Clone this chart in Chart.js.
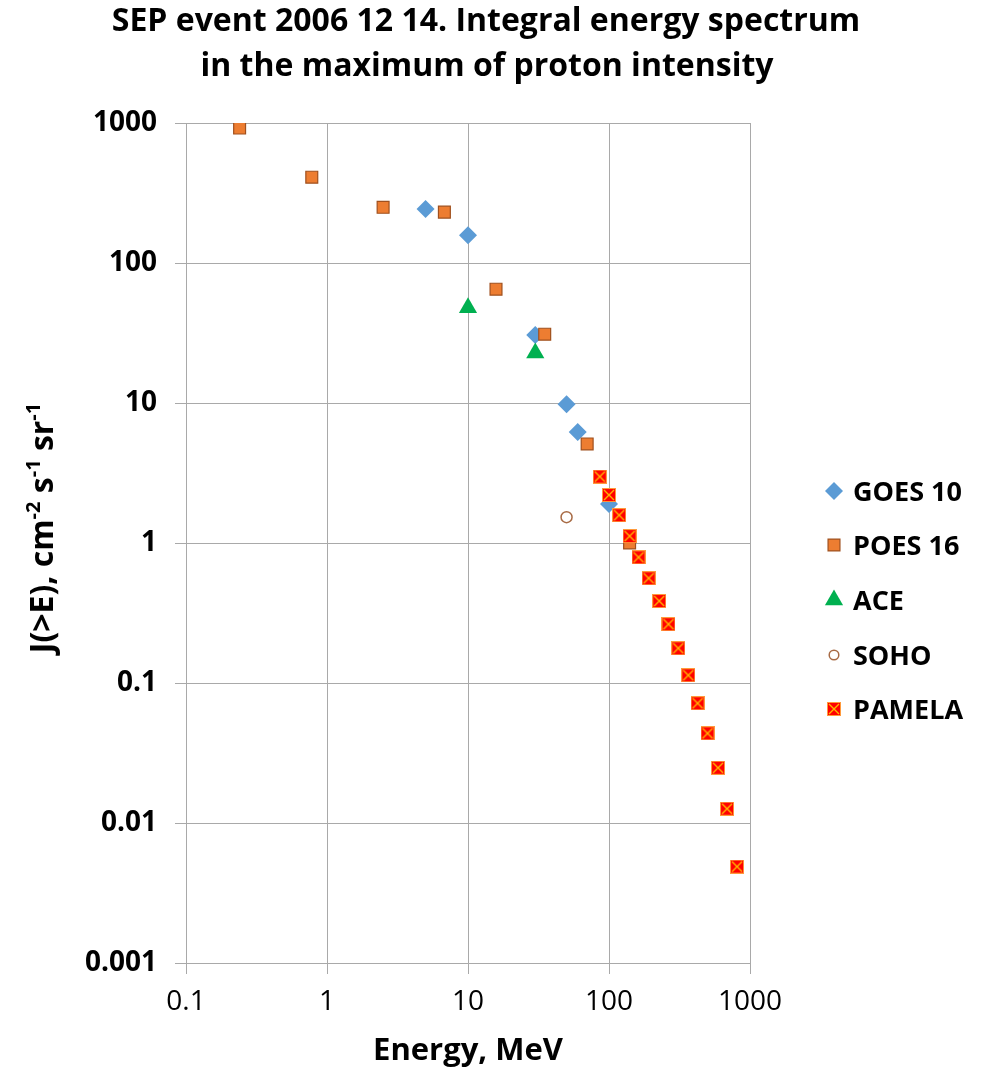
<!DOCTYPE html>
<html>
<head>
<meta charset="utf-8">
<title>SEP event 2006 12 14 – integral energy spectrum</title>
<script src="https://cdn.jsdelivr.net/npm/chart.js@4/dist/chart.umd.min.js"></script>
<style>
  html, body { margin: 0; padding: 0; background: #ffffff; }
  canvas { display: block; }
</style>
</head>
<body>
<canvas id="spectrum" width="989" height="1072"></canvas>
<script>
// ---- data: energy thresholds (MeV) and integral intensities J(>E) ----
const goesEnergy   = [5, 10, 30, 50, 60, 100];
const goesFlux     = [243, 158, 30.6, 9.8, 6.2, 1.9];

const poesEnergy   = [0.24, 0.78, 2.5, 6.8, 15.8, 35, 70, 140];
const poesFlux     = [920, 410, 250, 231, 65, 31, 5.1, 1.0];

const aceEnergy    = [10, 30];
const aceFlux      = [48, 22.8];

const sohoEnergy   = [50];
const sohoFlux     = [1.53];

const pamelaEnergy = [86, 100, 118, 140, 162, 191, 227, 264, 310, 365, 425, 500, 593, 687, 809];
const pamelaFlux   = [2.98, 2.2, 1.58, 1.12, 0.79, 0.56, 0.385, 0.263, 0.177, 0.1135, 0.0716, 0.0437, 0.0248, 0.01265, 0.00488];

const seriesNames  = ['GOES 10', 'POES 16', 'ACE', 'SOHO', 'PAMELA'];

const xTickValues  = [0.1, 1, 10, 100, 1000];
const xTickLabels  = ['0.1', '1', '10', '100', '1000'];
const yTickValues  = [0.001, 0.01, 0.1, 1, 10, 100, 1000];
const yTickLabels  = ['0.001', '0.01', '0.1', '1', '10', '100', '1000'];

const titleLines   = ['SEP event 2006 12 14. Integral energy spectrum', 'in the maximum of proton intensity'];
const xAxisTitle   = 'Energy, MeV';
// y-axis title pieces: [text, isSuperscript]
const yAxisTitle   = [['J(>E), cm', false], ['-2', true], [' s', false], ['-1', true], [' sr', false], ['-1', true]];

// ---- helpers ----
const zip = (xs, ys) => xs.map((x, i) => ({ x: x, y: ys[i] }));

// red square with an orange cross, used as the PAMELA marker
function crossedSquare(size) {
  const c = document.createElement('canvas');
  c.width = size; c.height = size;
  const g = c.getContext('2d');
  g.fillStyle = '#FF0000';
  g.fillRect(0, 0, size, size);
  g.strokeStyle = '#FF9A3C';
  g.lineWidth = 1;
  g.strokeRect(0.5, 0.5, size - 1, size - 1);
  g.strokeStyle = '#FFB800';
  g.lineWidth = 1.4;
  g.beginPath();
  g.moveTo(2, 2); g.lineTo(size - 2, size - 2);
  g.moveTo(size - 2, 2); g.lineTo(2, size - 2);
  g.stroke();
  return c;
}
const pamelaMark = crossedSquare(14);

const FONT = '"Open Sans", "Liberation Sans", sans-serif';
const GRID = '#a9a9a9';

const datasets = [
  { label: seriesNames[0], data: zip(goesEnergy, goesFlux), order: 5,
    pointStyle: 'rectRot', pointRadius: 9, pointBackgroundColor: '#5B9BD5', pointBorderColor: '#5B9BD5', pointBorderWidth: 0 },
  { label: seriesNames[1], data: zip(poesEnergy, poesFlux), order: 4,
    pointStyle: 'rect', pointRadius: 8.4, pointBackgroundColor: '#ED7D31', pointBorderColor: '#A0501E', pointBorderWidth: 1.2 },
  { label: seriesNames[2], data: zip(aceEnergy, aceFlux), order: 3,
    pointStyle: 'triangle', pointRadius: 10.5, pointBackgroundColor: '#00B050', pointBorderColor: '#00B050', pointBorderWidth: 0 },
  { label: seriesNames[3], data: zip(sohoEnergy, sohoFlux), order: 2,
    pointStyle: 'circle', pointRadius: 5.5, pointBackgroundColor: '#FFFFFF', pointBorderColor: '#A86B45', pointBorderWidth: 1.5 },
  { label: seriesNames[4], data: zip(pamelaEnergy, pamelaFlux), order: 1,
    pointStyle: pamelaMark, pointRadius: 7, pointBackgroundColor: '#FF0000', pointBorderColor: '#FFB800', pointBorderWidth: 0 }
];

// draws the two-line heading, the rotated y title with superscripts and the legend
const decorations = {
  id: 'decorations',
  afterDraw(chart) {
    const ctx = chart.ctx;
    ctx.save();
    ctx.fillStyle = '#000000';

    // heading
    ctx.font = 'bold 32px ' + FONT;
    ctx.textAlign = 'center';
    ctx.textBaseline = 'alphabetic';
    ctx.fillText(titleLines[0], 486, 31);
    ctx.fillText(titleLines[1], 487, 76);

    // y-axis title
    const base = 'bold 32px ' + FONT;
    const sup = 'bold 20px ' + FONT;
    let total = 0;
    yAxisTitle.forEach(([t, s]) => { ctx.font = s ? sup : base; total += ctx.measureText(t).width; });
    ctx.save();
    ctx.translate(53, 528);
    ctx.rotate(-Math.PI / 2);
    ctx.textAlign = 'left';
    let x = -total / 2;
    yAxisTitle.forEach(([t, s]) => {
      ctx.font = s ? sup : base;
      ctx.fillText(t, x, s ? -13 : 0);
      x += ctx.measureText(t).width;
    });
    ctx.restore();

    // legend
    const rowY = [491, 545, 600, 655, 709];
    ctx.font = 'bold 27px ' + FONT;
    ctx.textAlign = 'left';
    chart.data.datasets.forEach((ds, i) => {
      const opts = {
        pointStyle: ds.pointStyle,
        radius: ds.label === 'SOHO' ? 4.8 : ds.pointRadius,
        rotation: 0,
        borderWidth: ds.pointBorderWidth
      };
      ctx.fillStyle = ds.pointBackgroundColor;
      ctx.strokeStyle = ds.pointBorderColor;
      ctx.lineWidth = ds.pointBorderWidth;
      Chart.helpers.drawPoint(ctx, opts, 834, rowY[i]);
      ctx.fillStyle = '#000000';
      ctx.fillText(ds.label, 853, rowY[i] + 10);
    });
    ctx.restore();
  }
};

new Chart(document.getElementById('spectrum'), {
  type: 'scatter',
  data: { datasets: datasets },
  options: {
    responsive: false,
    animation: false,
    events: [],
    layout: { padding: { top: 123, right: 239, bottom: 0, left: 0 } },
    plugins: {
      legend: { display: false },
      title: { display: false },
      tooltip: { enabled: false }
    },
    scales: {
      x: {
        type: 'logarithmic',
        min: 0.1, max: 1000,
        afterFit(scale) { scale.height = 109; },
        afterBuildTicks(scale) { scale.ticks = xTickValues.map(v => ({ value: v })); },
        ticks: {
          padding: 11,
          color: '#000000',
          font: { family: FONT, size: 28 },
          maxRotation: 0,
          callback: (v) => { const k = xTickValues.indexOf(v); return k >= 0 ? xTickLabels[k] : ''; }
        },
        grid: { color: GRID, lineWidth: 1, tickLength: 11, drawTicks: true },
        border: { color: GRID, width: 1 },
        title: {
          display: true, text: xAxisTitle, color: '#000000',
          font: { family: FONT, size: 31, weight: 'bold', lineHeight: 1.2 },
          padding: { top: 0, bottom: 2 }
        }
      },
      y: {
        type: 'logarithmic',
        min: 0.001, max: 1000,
        afterFit(scale) { scale.width = 186; },
        afterBuildTicks(scale) { scale.ticks = yTickValues.map(v => ({ value: v })); },
        ticks: {
          padding: 18,
          color: '#000000',
          font: { family: FONT, size: 28, weight: 'bold' },
          callback: (v) => { const k = yTickValues.indexOf(v); return k >= 0 ? yTickLabels[k] : ''; }
        },
        grid: { color: GRID, lineWidth: 1, tickLength: 11, drawTicks: true },
        border: { color: GRID, width: 1 }
      }
    }
  },
  plugins: [decorations]
});
</script>
</body>
</html>
